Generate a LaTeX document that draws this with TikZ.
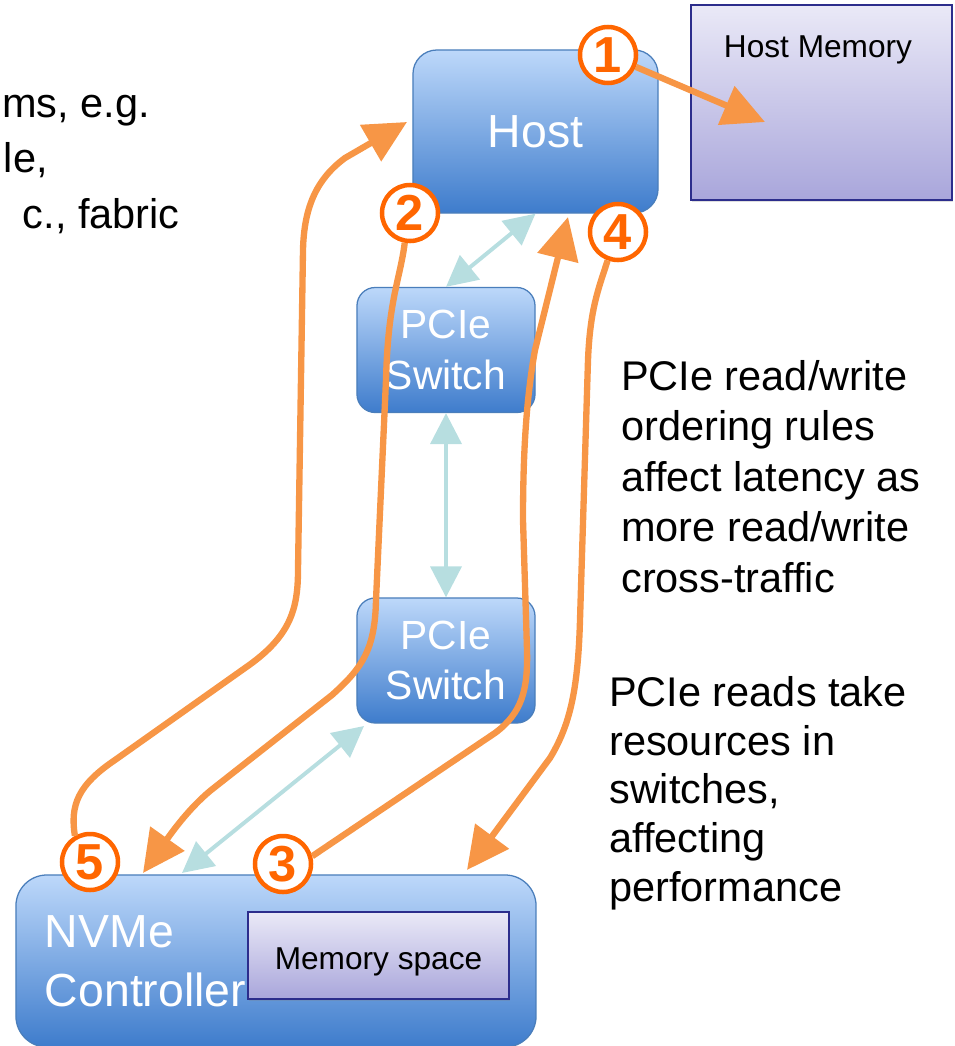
\documentclass[tikz,border=0pt]{standalone}
\usepackage{fontspec}
\setmainfont{Liberation Sans}
\usepackage{tikz}
\usetikzlibrary{arrows.meta,shadows}
\definecolor{hostblue}{RGB}{189,216,250}
\definecolor{hostdark}{RGB}{62,124,204}
\definecolor{hostedge}{RGB}{74,126,187}
\definecolor{memlight}{RGB}{234,233,247}
\definecolor{memdark}{RGB}{169,166,219}
\definecolor{memedge}{RGB}{44,45,140}
\definecolor{flow}{RGB}{247,150,70}
\definecolor{stepred}{RGB}{255,102,0}
\definecolor{linkcyan}{RGB}{183,222,224}

\begin{document}
\begin{tikzpicture}[x=0.025cm,y=-0.025cm,
	box/.style={draw=hostedge,line width=0.9pt,top color=hostblue,bottom color=hostdark,text=white,align=center},
	membox/.style={draw=memedge,line width=1.5pt,top color=memlight,bottom color=memdark,
		drop shadow={opacity=0.25,shadow xshift=1pt,shadow yshift=-1.2pt}},
	badge/.style={circle,draw=stepred,line width=3.2pt,fill=white,text=stepred,inner sep=0pt,
		minimum size=1.4cm,font=\bfseries\fontsize{36}{36}\selectfont},
	link/.style={draw=linkcyan,line width=2.8pt,{Triangle[length=22pt,width=22pt]}-{Triangle[length=22pt,width=22pt]}},
	flowline/.style={draw=flow,line width=4.5pt,-{Triangle[length=30pt,width=29pt]}},
	note/.style={align=left,inner sep=0pt,font=\fontsize{29.5}{36}\selectfont}]
	\useasboundingbox (0,0) rectangle (954,1046);

	% Text cut off at the left edge
	\node[note,anchor=base east] (cut1) at (150,117) {ms, e.g.};
	\node[note,anchor=base east] (cut2) at (48,172) {le,};
	\node[note,anchor=base east] (cut3) at (180,228) {c., fabric};

	% Host and host memory
	\node[box,minimum width=6.125cm,minimum height=4.075cm,rounded corners=17pt,
		font=\fontsize{33}{40}\selectfont] (host) at (535.5,131.5) {Host};
	\node[membox,minimum width=6.525cm,minimum height=4.875cm] (hostmem) at (821.5,102.5) {};
	\node[font=\fontsize{22.5}{27}\selectfont] (hostmemtxt) at (818,50) {Host Memory};

	% PCIe switches
	\node[box,minimum width=4.45cm,minimum height=3.125cm,rounded corners=13pt,
		font=\fontsize{29}{36}\selectfont] (sw1) at (446,350) {PCIe\\Switch};
	\node[box,minimum width=4.45cm,minimum height=3.125cm,rounded corners=13pt,
		font=\fontsize{29}{36}\selectfont] (sw2) at (446,660.5) {PCIe\\Switch};

	% NVMe controller with its memory
	\node[box,minimum width=13cm,minimum height=4.3cm,rounded corners=22pt,text width=11.55cm,
		align=left,font=\fontsize{33}{42}\selectfont] (nvme) at (276,961) {NVMe\\Controller};
	\node[membox,minimum width=6.525cm,minimum height=2.175cm,text height=22pt,text depth=1.4pt,
		font=\fontsize{22.5}{27}\selectfont] (memspace) at (378.5,955.5) {Memory space};

	% PCIe links
	\coordinate (swlink) at (364,726);
	\coordinate (nvmelink) at (182,873);
	\draw[link] (host.south) -- (sw1.north);
	\draw[link] (sw1.south) -- (sw2.north);
	\draw[link] (swlink) -- (nvmelink);

	% Numbered steps
	\node[badge] (c1) at (608,55) {1};
	\node[badge] (c2) at (410,213) {2};
	\node[badge] (c3) at (283,864) {3};
	\node[badge] (c4) at (618,232) {4};
	\node[badge] (c5) at (90,862) {5};

	% Flow arrows
	\coordinate (t1) at (765,122);
	\coordinate (t2) at (143,873);
	\coordinate (t3) at (568,217);
	\coordinate (t4) at (467,870);
	\coordinate (t5) at (407,122);
	\draw[flowline] (c1) -- (t1);
	\draw[flowline] (c2.260) .. controls (400,280) and (388,300) .. (386,380) -- (376,600)
		.. controls (375,650) and (362,668) .. (332,695) -- (215,787)
		.. controls (190,806) and (170,835) .. (t2);
	\draw[flowline] (c3.15) -- (495,733) .. controls (522,713) and (528,690) .. (527,650)
		-- (523,520) .. controls (523,455) and (526,400) .. (535,350) -- (t3);
	\draw[flowline] (c4.250) .. controls (598,290) and (590,310) .. (588,360) -- (580,620)
		.. controls (578,690) and (570,725) .. (550,758) -- (t4);
	\draw[flowline] (c5.120) .. controls (70,805) and (78,785) .. (115,760) -- (245,668)
		.. controls (290,637) and (298,610) .. (298,570) -- (303,250)
		.. controls (304,205) and (318,178) .. (345,158) -- (t5);

	% Notes
	\node[note,anchor=west] (ordering) at (621,476.5)
		{PCIe read/write\\ordering rules\\affect latency as\\more read/write\\cross-traffic};
	\node[note,anchor=west,font=\fontsize{29.5}{34.6}\selectfont] (reads) at (609,793)
		{PCIe reads take\\resources in\\switches,\\affecting\\performance};
\end{tikzpicture}
\end{document}
